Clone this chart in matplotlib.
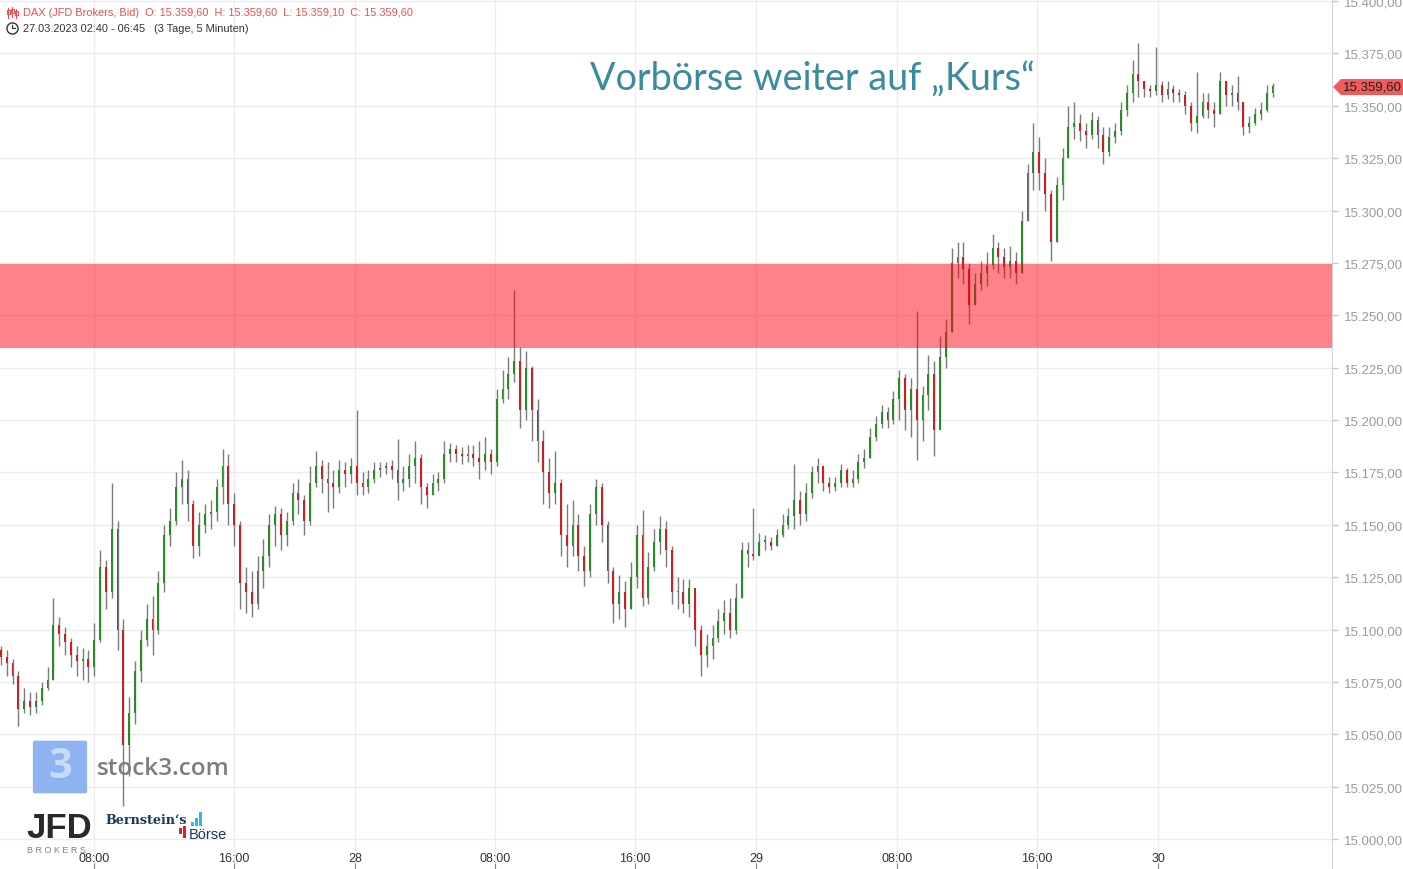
import numpy as np
import matplotlib.pyplot as plt
from matplotlib.patches import Polygon, FancyBboxPatch, Rectangle
from matplotlib.transforms import blended_transform_factory

# DAX 20-minute candles (27.03.2023 02:40 - 30.03.2023 06:45)
first_open = 15090
closes = [15087, 15084, 15078, 15062, 15066, 15063, 15066, 15072, 15076, 15102,
          15098, 15094, 15088, 15085, 15086, 15082, 15095, 15130, 15118, 15148,
          15100, 15045, 15060, 15080, 15095, 15105, 15100, 15122, 15145, 15152,
          15168, 15172, 15160, 15140, 15150, 15155, 15156, 15168, 15178, 15160,
          15150, 15122, 15118, 15112, 15128, 15135, 15150, 15155, 15145, 15152,
          15165, 15162, 15152, 15170, 15178, 15172, 15170, 15168, 15176, 15174,
          15178, 15170, 15168, 15172, 15176, 15177, 15178, 15176, 15170, 15172,
          15178, 15182, 15168, 15164, 15170, 15172, 15184, 15186, 15184, 15183,
          15184, 15182, 15180, 15184, 15180, 15210, 15215, 15222, 15228, 15205,
          15225, 15205, 15190, 15175, 15165, 15170, 15145, 15140, 15150, 15135,
          15128, 15155, 15168, 15150, 15128, 15112, 15118, 15110, 15125, 15145,
          15115, 15130, 15142, 15148, 15138, 15118, 15118, 15112, 15120, 15100,
          15088, 15092, 15096, 15104, 15108, 15100, 15115, 15138, 15136, 15135,
          15142, 15142, 15140, 15145, 15150, 15154, 15162, 15155, 15165, 15175,
          15178, 15170, 15168, 15170, 15176, 15170, 15172, 15180, 15182, 15192,
          15198, 15204, 15200, 15210, 15220, 15205, 15215, 15200, 15212, 15222,
          15195, 15230, 15242, 15275, 15278, 15272, 15255, 15265, 15270, 15274,
          15282, 15278, 15273, 15276, 15270, 15295, 15318, 15328, 15318, 15308,
          15285, 15312, 15325, 15340, 15342, 15338, 15336, 15343, 15336, 15328,
          15335, 15338, 15348, 15356, 15365, 15362, 15358, 15357, 15360, 15355,
          15358, 15356, 15355, 15350, 15342, 15345, 15352, 15348, 15346, 15362,
          15355, 15356, 15352, 15340, 15342, 15346, 15348, 15356, 15359.6]
highs = [15092, 15090, 15086, 15080, 15072, 15070, 15070, 15075, 15082, 15115,
         15106, 15101, 15096, 15092, 15091, 15090, 15103, 15138, 15133, 15170,
         15152, 15105, 15068, 15085, 15100, 15112, 15116, 15128, 15150, 15158,
         15175, 15181, 15176, 15162, 15156, 15160, 15162, 15172, 15186, 15184,
         15165, 15152, 15130, 15128, 15135, 15143, 15155, 15159, 15158, 15156,
         15170, 15172, 15164, 15178, 15185, 15181, 15180, 15176, 15181, 15180,
         15182, 15205, 15175, 15176, 15180, 15180, 15180, 15181, 15191, 15178,
         15184, 15190, 15184, 15170, 15174, 15175, 15190, 15189, 15188, 15187,
         15188, 15188, 15190, 15192, 15186, 15215, 15224, 15230, 15262, 15235,
         15233, 15226, 15210, 15195, 15182, 15185, 15172, 15160, 15162, 15155,
         15140, 15160, 15172, 15170, 15152, 15130, 15126, 15123, 15132, 15150,
         15157, 15137, 15148, 15154, 15152, 15140, 15125, 15124, 15124, 15118,
         15102, 15098, 15102, 15110, 15114, 15115, 15122, 15142, 15142, 15158,
         15146, 15145, 15144, 15148, 15155, 15158, 15179, 15166, 15170, 15178,
         15182, 15178, 15173, 15173, 15179, 15177, 15176, 15184, 15186, 15196,
         15202, 15207, 15206, 15214, 15224, 15222, 15220, 15252, 15216, 15231,
         15228, 15240, 15248, 15282, 15285, 15285, 15275, 15270, 15276, 15280,
         15289, 15285, 15282, 15283, 15280, 15300, 15322, 15342, 15335, 15325,
         15310, 15316, 15330, 15350, 15352, 15346, 15342, 15347, 15345, 15340,
         15340, 15342, 15352, 15360, 15372, 15380, 15362, 15360, 15378, 15362,
         15362, 15360, 15358, 15357, 15352, 15366, 15356, 15356, 15352, 15366,
         15362, 15360, 15364, 15352, 15345, 15349, 15352, 15360, 15361]
lows = [15083, 15078, 15074, 15054, 15060, 15059, 15060, 15064, 15071, 15076,
        15092, 15088, 15082, 15078, 15076, 15075, 15078, 15094, 15110, 15115,
        15090, 15016, 15030, 15055, 15075, 15092, 15088, 15098, 15118, 15140,
        15150, 15160, 15152, 15134, 15135, 15146, 15148, 15152, 15160, 15150,
        15140, 15110, 15108, 15106, 15110, 15120, 15130, 15140, 15138, 15140,
        15150, 15155, 15145, 15150, 15168, 15165, 15156, 15158, 15165, 15168,
        15170, 15164, 15164, 15165, 15170, 15173, 15174, 15172, 15162, 15166,
        15168, 15170, 15160, 15158, 15164, 15166, 15170, 15180, 15180, 15179,
        15180, 15178, 15172, 15176, 15174, 15178, 15208, 15210, 15218, 15196,
        15200, 15190, 15180, 15160, 15158, 15160, 15135, 15130, 15135, 15128,
        15121, 15125, 15150, 15142, 15122, 15103, 15105, 15101, 15110, 15120,
        15111, 15112, 15128, 15136, 15130, 15112, 15110, 15108, 15106, 15092,
        15078, 15082, 15086, 15094, 15098, 15096, 15098, 15115, 15130, 15133,
        15136, 15138, 15138, 15140, 15144, 15148, 15148, 15150, 15152, 15163,
        15170, 15166, 15165, 15166, 15168, 15168, 15168, 15170, 15177, 15182,
        15190, 15196, 15196, 15198, 15200, 15195, 15192, 15181, 15190, 15205,
        15183, 15205, 15225, 15242, 15268, 15265, 15246, 15255, 15262, 15264,
        15272, 15270, 15268, 15268, 15265, 15270, 15295, 15310, 15310, 15300,
        15276, 15285, 15305, 15325, 15334, 15333, 15330, 15334, 15330, 15322,
        15326, 15332, 15336, 15345, 15352, 15354, 15354, 15354, 15355, 15352,
        15353, 15352, 15352, 15346, 15338, 15337, 15344, 15344, 15340, 15346,
        15350, 15350, 15348, 15336, 15337, 15341, 15343, 15347, 15354]

x_tick_labels = ['08:00', '16:00', '28', '08:00', '16:00', '29', '08:00', '16:00', '30']
x_tick_pos = [16, 40, 60.7, 84.7, 108.7, 129.5, 153.6, 177.6, 198.4]
zone_low, zone_high = 15234.5, 15274.5
last_price = 15359.6


def de_fmt(v):
    s = f"{v:,.2f}"
    return s.replace(',', 'X').replace('.', ',').replace('X', '.')


fig = plt.figure(figsize=(14.03, 8.70), dpi=100)
ax = fig.add_axes([0, 0, 1332 / 1403, 1])

opens = np.array([first_open] + closes[:-1], dtype=float)
closes_a = np.array(closes, dtype=float)
x = np.arange(len(closes_a))
up = closes_a >= opens

ax.vlines(x, lows, highs, color='#7b7b7b', lw=1.0, zorder=2)
body_lo = np.minimum(opens, closes_a)
body_h = np.maximum(np.abs(closes_a - opens), 0.6)
ax.bar(x[up], body_h[up], bottom=body_lo[up], width=0.32, color='#2a8a2a', zorder=3, linewidth=0)
ax.bar(x[~up], body_h[~up], bottom=body_lo[~up], width=0.32, color='#cc1f1f', zorder=3, linewidth=0)

# resistance zone
ax.axhspan(zone_low, zone_high, color=(1.0, 0.0, 0.07), alpha=0.49, lw=0, zorder=4)

ax.set_xlim(-0.15, 228.2)
ax.set_ylim(14985.7, 15400.95)

yt = np.arange(15000, 15401, 25)
ax.set_yticks(yt)
ax.set_yticklabels([de_fmt(v) for v in yt])
ax.yaxis.tick_right()
ax.tick_params(axis='y', length=4, width=1, color='#c8c8c8', pad=4.5,
               labelsize=9.5, labelcolor='#9a9a9a')
for lab in ax.get_yticklabels():
    lab.set_family('Liberation Sans')

ax.set_xticks(x_tick_pos)
ax.set_xticklabels([])
ax.tick_params(axis='x', direction='in', length=4, color='#888888')
ax.grid(True, color='#ececec', lw=1, zorder=0)
ax.set_axisbelow(True)
for s in ['top', 'left', 'bottom']:
    ax.spines[s].set_visible(False)
ax.spines['right'].set_color('#d4d4d4')

tr = blended_transform_factory(ax.transData, ax.transAxes)
for p, lab in zip(x_tick_pos, x_tick_labels):
    ax.text(p, 1 - 859 / 870, lab, transform=tr, ha='center', va='center',
            fontsize=9, color='#333333', family='Liberation Sans')

W, H = 1403.0, 870.0


def fx(px):
    return px / W


def fy(py):
    return 1 - py / H


# title
fig.text(fx(590), fy(79), 'Vorbörse weiter auf \u201eKurs\u201c', fontsize=27.2,
         color='#3a8b9b', family='Lato', va='center', ha='left')

# price tag
tag = Polygon([(fx(1333), fy(88)), (fx(1341), fy(80)), (fx(1403), fy(80)),
               (fx(1403), fy(96)), (fx(1341), fy(96))], closed=True,
              transform=fig.transFigure, facecolor='#f25a5a', edgecolor='none')
fig.patches.append(tag)
fig.text(fx(1343), fy(88), de_fmt(last_price), fontsize=9.5, color='#1e1e1e',
         family='Liberation Sans', va='center', ha='left')

# header
fig.text(fx(23), fy(13), 'DAX (JFD Brokers, Bid)  O: 15.359,60  H: 15.359,60  L: 15.359,10  C: 15.359,60',
         fontsize=7.9, color='#ee4f4f', family='Liberation Sans', va='center')
fig.text(fx(23), fy(29), '27.03.2023 02:40 - 06:45   (3 Tage, 5 Minuten)',
         fontsize=7.9, color='#333333', family='Liberation Sans', va='center')
for cx, top, bot in [(8, 9, 19), (12, 8, 18), (16, 10, 19)]:
    fig.lines.append(plt.Line2D([fx(cx), fx(cx)], [fy(top), fy(bot)],
                                transform=fig.transFigure, color='#ee4f4f', lw=0.8))
    fig.patches.append(Rectangle((fx(cx - 1.5), fy(top + 6)), fx(3), 4 / H,
                                 transform=fig.transFigure, facecolor='white',
                                 edgecolor='#ee4f4f', lw=0.8))
fig.lines.append(plt.Line2D([fx(12)], [fy(29)], transform=fig.transFigure, marker='o',
                            markersize=8, mfc='none', mec='#333333', mew=1.0, ls='none'))
fig.lines.append(plt.Line2D([fx(12), fx(12), fx(14.5)], [fy(26), fy(29), fy(29)],
                            transform=fig.transFigure, color='#333333', lw=0.9))

# logos
fig.patches.append(FancyBboxPatch((fx(35), fy(793)), fx(50), 50 / H,
                                  boxstyle='round,pad=0.0015', transform=fig.transFigure,
                                  facecolor='#8db4f0', edgecolor='none'))
fig.text(fx(60), fy(768), '3', fontsize=30, fontweight='bold', color='#c9dbf8',
         family='Open Sans', ha='center', va='center')
fig.text(fx(97), fy(769), 'stock3.com', fontsize=17.5, fontweight='semibold',
         color='#7d7d7d', family='Open Sans', va='center')
fig.text(fx(26), fy(829), 'JFD', fontsize=25, fontweight='bold', color='#2a2a2a',
         family='Liberation Sans', va='center')
fig.text(fx(27), fy(851), 'B R O K E R S', fontsize=6.5, color='#808080',
         family='Liberation Sans', va='center')
fig.text(fx(105), fy(821), 'Bernstein\u2018s', fontsize=9.2, fontweight='bold',
         color='#17375e', family='DejaVu Serif', va='center')
fig.text(fx(189), fy(835), 'Börse', fontsize=10.5, color='#17375e',
         family='Liberation Sans', va='center')
for bx, bh in [(191, 4), (195, 8), (199, 14)]:
    fig.patches.append(Rectangle((fx(bx), fy(827)), fx(2.5), bh / H,
                                 transform=fig.transFigure, facecolor='#35b5e8', edgecolor='none'))
for bx, bt, bb in [(179, 829, 835), (183, 827, 839)]:
    fig.patches.append(Rectangle((fx(bx), fy(bb)), fx(2.5), (bb - bt) / H,
                                 transform=fig.transFigure, facecolor='#e0202a', edgecolor='none'))

fig.savefig('out.png', dpi=100)
